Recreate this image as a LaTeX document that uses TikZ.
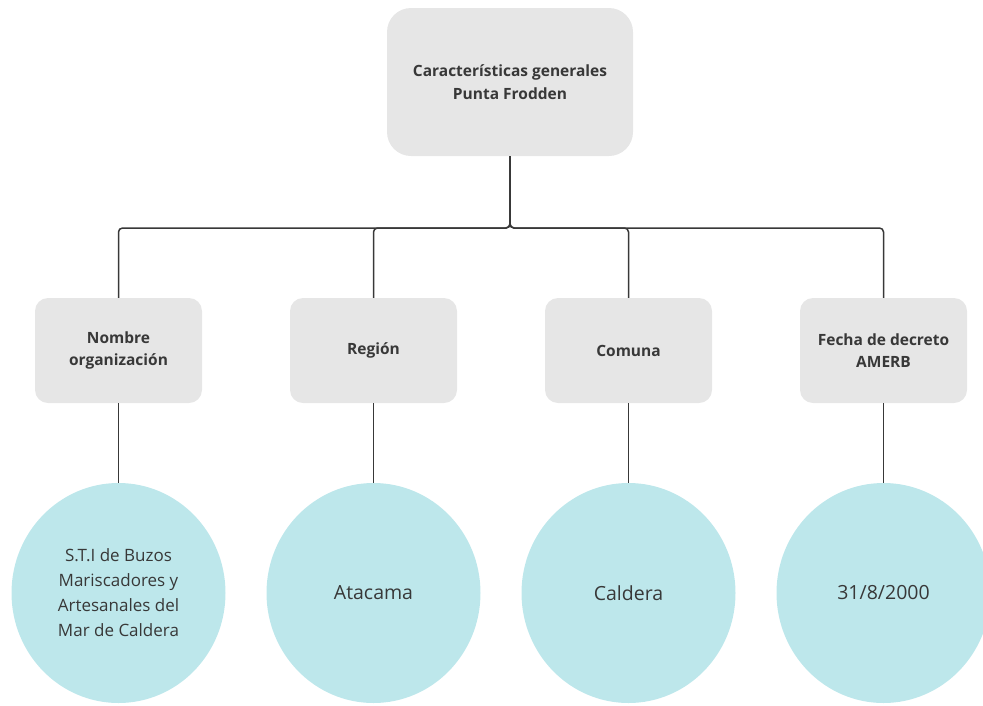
\documentclass[tikz,border=0pt]{standalone}
\usepackage{fontspec}
\setmainfont{Open Sans}
\usetikzlibrary{positioning,shapes.geometric}
\definecolor{boxfill}{HTML}{E6E6E6}
\definecolor{valuefill}{HTML}{BDE7EB}
\definecolor{textclr}{HTML}{383838}
\definecolor{lineclr}{HTML}{383838}
\tikzset{
  header/.style   = {fill=boxfill, rounded corners=24pt, align=center,
                     minimum width=246pt, minimum height=148pt,
                     text=textclr, font=\fontsize{15.5}{22.5}\selectfont\bfseries},
  field/.style    = {fill=boxfill, rounded corners=13pt, align=center,
                     minimum width=167pt, minimum height=105pt,
                     text=textclr, font=\fontsize{15.5}{22.5}\selectfont\bfseries},
  value/.style    = {ellipse, fill=valuefill, align=center, inner sep=0pt,
                     minimum width=214pt, minimum height=220pt,
                     text=textclr, font=\fontsize{17}{25}\selectfont},
  bigvalue/.style = {value, font=\fontsize{19.5}{25}\selectfont},
  link/.style     = {draw=lineclr, line width=1.5pt, rounded corners=4pt},
}

\begin{document}
\begin{tikzpicture}[x=1pt, y=1pt]
\useasboundingbox (0,0) rectangle (983,-705);

%% =====================================================================
%% Root
%% =====================================================================
\node[header] (root) at (510,-82)
  {Características generales\\Punta Frodden};
\coordinate (bus) at (510,-228);

%% =====================================================================
%% Fields
%% =====================================================================
\node[field] (org)    at (118.5,-350.5) {Nombre\\organización};
\node[field] (region) at (373.5,-350.5) {Región};
\node[field] (comuna) at (628.5,-350.5) {Comuna};
\node[field] (fecha)  at (883.5,-350.5) {Fecha de decreto\\AMERB};

%% =====================================================================
%% Values
%% =====================================================================
\node[value]    (orgval)    at (118.5,-593)
  {S.T.I de Buzos\\Mariscadores y\\Artesanales del\\Mar de Caldera};
\node[bigvalue] (regionval) at (373.5,-593) {Atacama};
\node[bigvalue] (comunaval) at (628.5,-593) {Caldera};
\node[bigvalue] (fechaval)  at (883.5,-593) {31/8/2000};

%% --- connectors --------------------------------------------------------
\foreach \f in {org,region,comuna,fecha}{
  \draw[link] (root.south) -- (bus) -| (\f.north);
  \draw[link] (\f.south) -- (\f val.north);
}

\end{tikzpicture}
\end{document}
